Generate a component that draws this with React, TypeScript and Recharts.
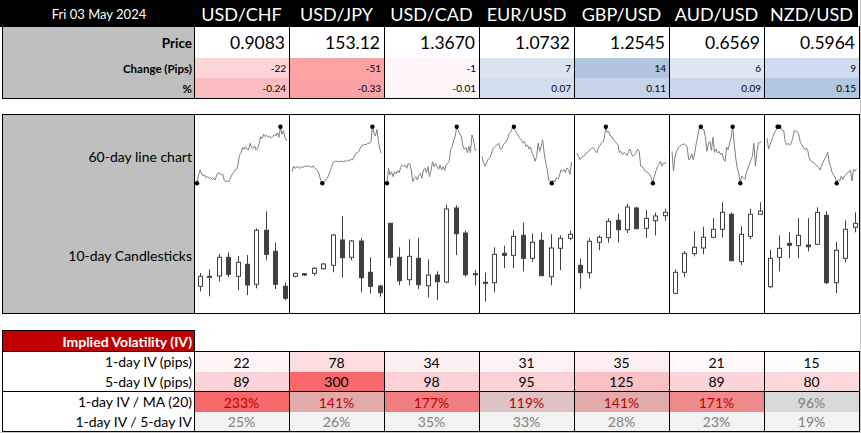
import React from "react";
import { ComposedChart, Bar, LineChart, Line, XAxis, YAxis } from "recharts";

const DATE_LABEL = "Fri 03 May 2024";
const PAIRS = ["USD/CHF", "USD/JPY", "USD/CAD", "EUR/USD", "GBP/USD", "AUD/USD", "NZD/USD"];
const PRICES = ["0.9083", "153.12", "1.3670", "1.0732", "1.2545", "0.6569", "0.5964"];
const CHANGE_PIPS = ["-22", "-51", "-1", "7", "14", "6", "9"];
const CHANGE_PCT = ["-0.24", "-0.33", "-0.01", "0.07", "0.11", "0.09", "0.15"];

const IV_LABELS = ["1-day IV (pips)", "5-day IV (pips)", "1-day IV / MA (20)", "1-day IV / 5-day IV"];
const IV_1D = ["22", "78", "34", "31", "35", "21", "15"];
const IV_5D = ["89", "300", "98", "95", "125", "89", "80"];
const IV_MA20 = ["233%", "141%", "177%", "119%", "141%", "171%", "96%"];
const IV_1D_5D = ["25%", "26%", "35%", "33%", "28%", "23%", "19%"];

// 60-day closes, relative level (higher = higher price)
const LINE_USDCHF = [0, 25, 40, 28, 22, 25, 17, 20, 15, 17, 12, 14, 10, 25, 32, 30, 25, 27, 8, 6, 7, 5, 15, 25, 32, 40, 42, 55, 85, 90, 108, 102, 110, 102, 100, 120, 108, 105, 112, 100, 105, 120, 140, 135, 148, 140, 144, 138, 142, 136, 140, 148, 142, 152, 138, 170, 148, 158, 138, 128];
const LINE_USDJPY = [35, 52, 45, 48, 50, 44, 50, 48, 50, 52, 50, 52, 50, 48, 52, 45, 42, 38, 25, 8, 0, 5, 8, 15, 22, 35, 48, 62, 65, 67, 65, 66, 65, 67, 64, 68, 65, 70, 68, 72, 70, 80, 90, 92, 95, 105, 114, 115, 117, 116, 120, 120, 124, 170, 150, 142, 162, 125, 102, 90];
const LINE_USDCAD = [0, 45, 25, 35, 20, 35, 28, 38, 32, 48, 55, 50, 55, 45, 60, 58, 40, 5, 15, 20, 10, 25, 30, 15, 40, 45, 32, 50, 20, 38, 65, 50, 60, 52, 42, 55, 40, 50, 38, 55, 60, 65, 102, 110, 130, 142, 170, 158, 148, 142, 112, 102, 108, 92, 112, 92, 145, 132, 100, 100];
const LINE_EURUSD = [82, 64, 52, 62, 72, 77, 87, 102, 109, 114, 117, 122, 104, 105, 117, 122, 127, 137, 152, 157, 167, 172, 160, 152, 144, 137, 132, 122, 127, 112, 117, 104, 110, 92, 82, 67, 82, 122, 97, 112, 132, 92, 62, 42, 10, 7, 0, 10, 4, 17, 12, 22, 40, 37, 42, 32, 47, 42, 27, 64];
const LINE_GBPUSD = [92, 82, 72, 79, 82, 84, 92, 94, 100, 104, 109, 107, 100, 92, 107, 114, 122, 125, 137, 172, 154, 157, 144, 142, 132, 127, 122, 117, 94, 97, 87, 94, 90, 84, 97, 104, 87, 82, 87, 94, 104, 97, 52, 50, 44, 37, 34, 32, 26, 17, 0, 22, 37, 50, 57, 67, 52, 62, 60, 64];
const LINE_AUDUSD = [97, 37, 82, 97, 107, 112, 116, 118, 120, 117, 110, 72, 74, 90, 72, 92, 122, 144, 167, 172, 162, 164, 142, 97, 122, 127, 100, 140, 94, 104, 92, 97, 87, 92, 74, 67, 110, 102, 122, 140, 172, 122, 77, 47, 30, 0, 22, 17, 12, 32, 44, 57, 72, 82, 122, 52, 97, 122, 124, 127];
const LINE_NZDUSD = [137, 104, 117, 130, 142, 154, 162, 172, 172, 170, 162, 160, 127, 117, 122, 116, 122, 137, 160, 159, 156, 147, 124, 117, 110, 102, 107, 97, 72, 70, 64, 62, 57, 52, 47, 40, 54, 64, 74, 82, 94, 64, 50, 32, 24, 17, 0, 12, 7, 22, 12, 22, 26, 32, 34, 40, 7, 42, 37, 44];
const LINES = [LINE_USDCHF, LINE_USDJPY, LINE_USDCAD, LINE_EURUSD, LINE_GBPUSD, LINE_AUDUSD, LINE_NZDUSD];

// 10-day candles [open, high, low, close], same relative scale for all pairs
const CANDLES_USDCHF = [[25.7, 39, 20.7, 35.7], [35.7, 42.7, 15.7, 34.7], [36, 57.7, 30.7, 54.7], [54.7, 59.7, 34.7, 37.7], [35.7, 56, 21.7, 49.7], [47.7, 57, 17, 27], [27.7, 83.7, 23.7, 81.7], [81.7, 100.7, 51.7, 57.7], [60.7, 69.3, 23, 27.7], [25.7, 29.7, 11.7, 13.7]];
const CANDLES_USDJPY = [[35.7, 38.7, 34.7, 38.7], [38.3, 38.7, 36, 37], [38.7, 45, 36.3, 43.7], [43.3, 49, 42.3, 48], [46.7, 78, 39.7, 77], [72, 96, 34.7, 54.3], [54.7, 72, 51.7, 71], [71, 74, 19.7, 34.3], [39.7, 54.7, 18.7, 25.7], [26, 27.3, 15.3, 19.3]];
const CANDLES_USDCAD = [[88.7, 88.7, 46, 54.7], [54.7, 64.7, 26.7, 31.3], [32.3, 72.7, 26.7, 55.7], [53.7, 73.7, 23, 27.3], [26.3, 52.7, 14.7, 37], [37, 40.7, 12, 30.3], [30, 107.3, 28.7, 103], [104, 106.7, 57, 78.3], [79, 81.3, 35.3, 37.3], [38.3, 42, 26.7, 37.3]];
const CANDLES_EURUSD = [[29.7, 39.3, 10.7, 28.7], [29.3, 64.7, 19.7, 57.7], [58.7, 66.3, 44, 56.7], [56.7, 81.7, 44, 75.7], [76.7, 89.3, 40.7, 53.7], [53.7, 78.7, 50.3, 69.7], [71.7, 79.3, 36.3, 36.3], [35.3, 77.7, 26.7, 64], [63.7, 76.7, 41.7, 73.7], [73.7, 81.3, 71.7, 77.7]];
const CANDLES_GBPUSD = [[46.7, 53.3, 23.3, 39.3], [39.3, 73.7, 33.7, 70.7], [69.7, 76.7, 61.7, 74.7], [74.3, 93.7, 69.3, 90.7], [91.7, 98.3, 69.3, 82.3], [82.3, 108, 79, 105], [104, 105.3, 82.7, 83.3], [83.7, 102, 74.3, 93.7], [91.3, 99.3, 76.7, 96], [96.3, 103.3, 91.3, 99.7]];
const CANDLES_AUDUSD = [[18.7, 42.7, 17.7, 39.7], [39.7, 61, 34.7, 58.7], [58.3, 80.7, 55.7, 64.7], [64, 85.3, 57.7, 74.7], [74.7, 93.7, 73.7, 82.7], [82.7, 109.7, 74.7, 99.7], [97.7, 99.7, 50.7, 51.3], [50.3, 85.7, 47, 77.7], [75.7, 103.3, 72.7, 97.7], [97.7, 109.7, 97, 101]];
const CANDLES_NZDUSD = [[25.3, 62, 23.7, 53.7], [54.7, 76.7, 40.7, 63.7], [68.7, 79.7, 54, 66.7], [66.3, 93.7, 53.7, 76.7], [67, 93.7, 60.7, 65.3], [67.7, 104.7, 67, 99.7], [96.7, 100.7, 28, 29.3], [29.3, 70.3, 19, 61.7], [53.7, 91.7, 49.7, 82.7], [84.7, 99.7, 79.7, 88.7]];
const CANDLES = [CANDLES_USDCHF, CANDLES_USDJPY, CANDLES_USDCAD, CANDLES_EURUSD, CANDLES_GBPUSD, CANDLES_AUDUSD, CANDLES_NZDUSD];

const PIPS_BG = ["#fdd5d7", "#fca3a4", "#fdf5f7", "#dae4f1", "#b1c5e1", "#dde6f2", "#cfdbee"];
const PCT_BG = ["#fbbdbf", "#fba3a4", "#fdf4f6", "#d2ddef", "#c6d4ea", "#cbd8ec", "#b3c6e2"];
const IV_1D_BG = ["#fcf4f7", "#fbdcdf", "#fcf0f3", "#fcf2f5", "#fcedf0", "#fdf8fb", "#fcfcff"];
const IV_5D_BG = ["#fad4d8", "#f8696b", "#fad1d5", "#fad2d6", "#f9c1c4", "#fad4d8", "#fbd8db"];
const IV_MA_BG = ["#f8696b", "#e2abab", "#f07e80", "#dfc2c3", "#e2abab", "#ee8a8b", "#d9d9d9"];

const FONT = "Lato, 'Open Sans', sans-serif";
const LABEL_R = 194;
const COL_W = 95;
const X_END = LABEL_R + COL_W * 7;
const colLeft = (i: number) => LABEL_R + COL_W * i;

function Box({ x, y, w, h, bg, align = "right", pad = 0, style, children }: any) {
  return (
    <div
      style={{
        position: "absolute",
        left: x,
        top: y,
        width: w,
        height: h,
        background: bg,
        display: "flex",
        alignItems: "center",
        justifyContent: align === "right" ? "flex-end" : align === "center" ? "center" : "flex-start",
        paddingRight: pad,
        boxSizing: "border-box",
        whiteSpace: "nowrap",
        ...style,
      }}
    >
      {children}
    </div>
  );
}

const HLine = ({ x1, x2, y, color = "#000" }: any) => (
  <div style={{ position: "absolute", left: x1, top: y, width: x2 - x1, height: 1, background: color }} />
);
const VLine = ({ x, y1, y2, color = "#000" }: any) => (
  <div style={{ position: "absolute", left: x, top: y1, width: 1, height: y2 - y1, background: color }} />
);

function CandleShape(props: any) {
  const { x, y, width, height, payload } = props;
  const { open, high, low, close } = payload;
  const top = Math.min(y, y + height);
  const h = Math.abs(height);
  const unit = h / (high - low || 1);
  const cx = Math.round(x + width / 2) + 0.5;
  const bodyTop = top + (high - Math.max(open, close)) * unit;
  const bodyBottom = top + (high - Math.min(open, close)) * unit;
  const up = close > open;
  return (
    <g>
      <line x1={cx} x2={cx} y1={top} y2={top + h} stroke="#404040" strokeWidth={1} />
      <rect
        x={cx - 2}
        y={bodyTop}
        width={4}
        height={Math.max(bodyBottom - bodyTop, 1)}
        fill={up ? "#ffffff" : "#404040"}
        stroke="#404040"
        strokeWidth={1}
      />
    </g>
  );
}

function Candles({ rows }: { rows: number[][] }) {
  const data = rows.map(([open, high, low, close], i) => ({ day: i + 1, open, high, low, close }));
  return (
    <ComposedChart width={94} height={117} data={data} margin={{ top: 0, right: 0, bottom: 0, left: 0 }}>
      <XAxis dataKey="day" hide />
      <YAxis hide domain={[0, 117]} allowDataOverflow />
      <Bar dataKey={(d: any) => [d.low, d.high]} shape={<CandleShape />} isAnimationActive={false} />
    </ComposedChart>
  );
}

function Spark({ values }: { values: number[] }) {
  const data = values.map((v, i) => ({ i, v }));
  const max = Math.max(...values);
  const min = Math.min(...values);
  return (
    <LineChart width={95} height={81} data={data} margin={{ top: 12.7, right: 2.5, bottom: 11.7, left: 3 }}>
      <XAxis dataKey="i" type="number" domain={["dataMin", "dataMax"]} hide />
      <YAxis domain={["dataMin", "dataMax"]} hide />
      <Line
        dataKey="v"
        stroke="#808080"
        strokeWidth={1}
        isAnimationActive={false}
        dot={(p: any) =>
          p.payload.v === max || p.payload.v === min ? (
            <circle key={p.index} cx={p.cx} cy={p.cy} r={2.2} fill="#000" />
          ) : (
            <g key={p.index} />
          )
        }
      />
    </LineChart>
  );
}

export default function App() {
  const cols = PAIRS.map((_, i) => i);
  return (
    <div
      style={{
        position: "fixed",
        left: 0,
        top: 0,
        width: 861,
        height: 433,
        background: "#fff",
        overflow: "hidden",
        fontFamily: FONT,
        color: "#000",
      }}
    >
      {/* header */}
      <Box x={0} y={0} w={858} h={27} bg="#000" />
      <Box x={2} y={0} w={LABEL_R} h={27} align="center" style={{ color: "#fff", fontSize: 13 }}>
        {DATE_LABEL}
      </Box>
      {cols.map((i) => (
        <Box key={"p" + i} x={colLeft(i)} y={0} w={COL_W} h={28} align="center" style={{ color: "#fff", fontSize: 18 }}>
          {PAIRS[i]}
        </Box>
      ))}

      {/* price block */}
      <Box x={2} y={27} w={LABEL_R - 2} h={71} bg="#bfbfbf" />
      <Box x={2} y={27} w={LABEL_R - 2} h={31} pad={2} style={{ fontSize: 13.5, fontWeight: 700 }}>Price</Box>
      <Box x={2} y={58} w={LABEL_R - 2} h={20} pad={2} style={{ fontSize: 11.5, fontWeight: 700 }}>Change (Pips)</Box>
      <Box x={2} y={78} w={LABEL_R - 2} h={20} pad={2} style={{ fontSize: 11.5, fontWeight: 700 }}>%</Box>
      {cols.map((i) => (
        <React.Fragment key={"r" + i}>
          <Box x={colLeft(i)} y={27} w={COL_W} h={31} pad={4} style={{ fontSize: 17.5 }}>{PRICES[i]}</Box>
          <Box x={colLeft(i)} y={58} w={COL_W} h={20} bg={PIPS_BG[i]} pad={3} style={{ fontSize: 10 }}>{CHANGE_PIPS[i]}</Box>
          <Box x={colLeft(i)} y={78} w={COL_W} h={20} bg={PCT_BG[i]} pad={3} style={{ fontSize: 10 }}>{CHANGE_PCT[i]}</Box>
        </React.Fragment>
      ))}
      <VLine x={2} y1={26} y2={99} />
      {[...cols, 7].map((i) => (
        <VLine key={"tv" + i} x={colLeft(i)} y1={26} y2={99} />
      ))}
      <HLine x1={2} x2={X_END + 1} y={98} />

      {/* chart block */}
      <Box x={3} y={115} w={LABEL_R - 3} h={198} bg="#bfbfbf" />
      <Box x={3} y={115} w={LABEL_R - 3} h={82} pad={2} style={{ fontSize: 14 }}>60-day line chart</Box>
      <Box x={3} y={214} w={LABEL_R - 3} h={82} pad={2} style={{ fontSize: 14 }}>10-day Candlesticks</Box>
      {cols.map((i) => (
        <React.Fragment key={"c" + i}>
          <div style={{ position: "absolute", left: colLeft(i), top: 114 }}>
            <Spark values={LINES[i]} />
          </div>
          <div style={{ position: "absolute", left: colLeft(i) + 1, top: 195 }}>
            <Candles rows={CANDLES[i]} />
          </div>
        </React.Fragment>
      ))}
      <HLine x1={2} x2={X_END + 1} y={114} />
      <HLine x1={2} x2={X_END + 1} y={313} />
      <VLine x={2} y1={114} y2={314} />
      {[...cols, 7].map((i) => (
        <VLine key={"mv" + i} x={colLeft(i)} y1={114} y2={314} />
      ))}

      {/* implied volatility block */}
      <Box x={2} y={331} w={LABEL_R - 2} h={20} bg="#c00000" pad={2} style={{ color: "#fff", fontSize: 14, fontWeight: 700 }}>
        Implied Volatility (IV)
      </Box>
      {IV_LABELS.map((label, r) => (
        <Box key={"l" + r} x={3} y={351 + r * 20} w={LABEL_R - 3} h={20} pad={2} style={{ fontSize: 14 }}>
          {label}
        </Box>
      ))}
      {cols.map((i) => (
        <React.Fragment key={"iv" + i}>
          <Box x={colLeft(i)} y={352} w={COL_W} h={20} bg={IV_1D_BG[i]} align="center" style={{ fontSize: 14 }}>{IV_1D[i]}</Box>
          <Box x={colLeft(i)} y={372} w={COL_W} h={19} bg={IV_5D_BG[i]} align="center" style={{ fontSize: 14 }}>{IV_5D[i]}</Box>
          <Box
            x={colLeft(i)}
            y={392}
            w={COL_W}
            h={20}
            bg={IV_MA_BG[i]}
            align="center"
            style={{ fontSize: 14, color: i === 6 ? "#808080" : "#c00000" }}
          >
            {IV_MA20[i]}
          </Box>
          <Box x={colLeft(i)} y={412} w={COL_W} h={19} bg="#f2f2f2" align="center" style={{ fontSize: 14, color: "#808080" }}>
            {IV_1D_5D[i]}
          </Box>
        </React.Fragment>
      ))}
      <HLine x1={2} x2={LABEL_R + 1} y={330} />
      <HLine x1={2} x2={X_END + 1} y={351} />
      <HLine x1={2} x2={X_END + 1} y={391} />
      <HLine x1={2} x2={X_END + 1} y={431} />
      <VLine x={2} y1={330} y2={432} />
      <VLine x={LABEL_R} y1={330} y2={351} />
      {[...cols, 7].map((i) => (
        <VLine key={"iv" + i} x={colLeft(i)} y1={351} y2={432} />
      ))}

      {/* sheet edge */}
      <VLine x={860} y1={0} y2={433} color="#c8c8c8" />
      <HLine x1={0} x2={861} y={432} color="#c8c8c8" />
    </div>
  );
}
